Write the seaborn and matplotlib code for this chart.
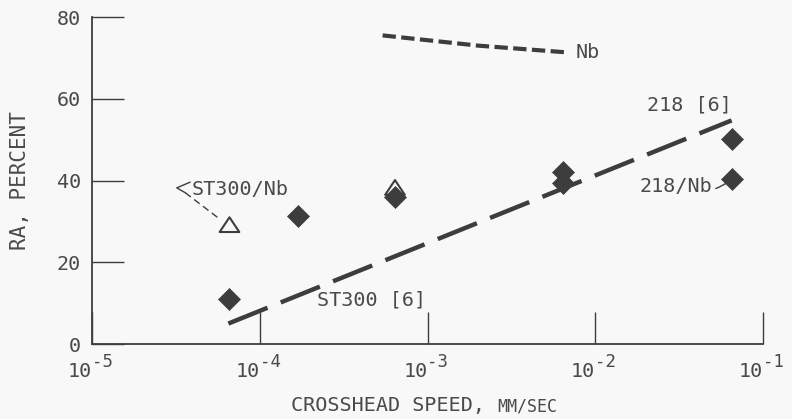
import numpy as np
import pandas as pd
import seaborn as sns
import matplotlib.pyplot as plt
from matplotlib.path import Path
import matplotlib.transforms as mtransforms

# filled diamonds (measured RA, percent)
speed_diamond = [6.6e-5, 1.7e-4, 6.4e-4, 6.4e-3, 6.4e-3, 6.5e-2, 6.5e-2]
ra_diamond = [11, 31.3, 36, 42, 39.3, 50.2, 40.3]

# open triangles (ST300/Nb)
speed_tri = [6.6e-5, 6.4e-4]
ra_tri = [29.2, 38.3]

# Nb curve (short dashes)
speed_nb = [5.4e-4, 2.0e-3, 7.0e-3]
ra_nb = [75.5, 73.0, 71.3]

# 218 / ST300 [6] reference line (long dashes)
speed_ref = [6.5e-5, 6.5e-2]
ra_ref = [5.0, 54.7]

x_ticks = [1e-5, 1e-4, 1e-3, 1e-2, 1e-1]
x_exponents = ['-5', '-4', '-3', '-2', '-1']
y_ticks = [0, 20, 40, 60, 80]

sns.set_theme(style='white')
plt.rcParams['font.family'] = ['DejaVu Sans Mono', 'DejaVu Sans']

ink = '#3d3d3d'
txt = '#4a4a4a'
bg = '#f8f8f8'

fig = plt.figure(figsize=(7.92, 4.19), dpi=100, facecolor=bg)
ax = fig.add_axes([92 / 792, 75 / 419, 671 / 792, 327 / 419], facecolor=bg)

df_nb = pd.DataFrame({'speed': speed_nb, 'ra': ra_nb})
df_ref = pd.DataFrame({'speed': speed_ref, 'ra': ra_ref})
df_d = pd.DataFrame({'speed': speed_diamond, 'ra': ra_diamond})
df_t = pd.DataFrame({'speed': speed_tri, 'ra': ra_tri})

sns.lineplot(data=df_nb, x='speed', y='ra', ax=ax, color=ink, lw=3, sort=False)
ax.lines[-1].set_dashes([3.2, 1.3])
sns.lineplot(data=df_ref, x='speed', y='ra', ax=ax, color=ink, lw=3.2, sort=False)
ax.lines[-1].set_dashes([9.5, 3.2])

tri = Path([(0, 0.75), (-1, -0.75), (1, -0.75), (0, 0.75)],
           [Path.MOVETO, Path.LINETO, Path.LINETO, Path.CLOSEPOLY])
sns.scatterplot(data=df_t, x='speed', y='ra', ax=ax, marker=tri, s=200,
                facecolor='none', edgecolor=ink, linewidth=1.5, zorder=3)
sns.scatterplot(data=df_d, x='speed', y='ra', ax=ax, marker='D', s=125,
                color=ink, edgecolor=ink, linewidth=0.5, zorder=4)

ax.set_xscale('log')
ax.set_xlim(1e-5, 1e-1)
ax.set_ylim(0, 80)
ax.set_xticks(x_ticks)
ax.set_xticklabels([])
ax.set_yticks(y_ticks)
ax.minorticks_off()
ax.tick_params(axis='both', direction='in', length=23, width=1.0,
               color=ink, labelcolor=txt, labelsize=14.5,
               bottom=True, left=True)
ax.tick_params(axis='y', pad=8)
for s in ['top', 'right']:
    ax.spines[s].set_visible(False)
for s in ['left', 'bottom']:
    ax.spines[s].set_color(ink)
    ax.spines[s].set_linewidth(1.3)

# x tick labels as 10 with raised exponent
trans = mtransforms.blended_transform_factory(ax.transData, ax.transAxes)
for t, e in zip(x_ticks, x_exponents):
    ax.text(t, (344 - 377) / 327, '10', transform=trans, ha='right',
            va='baseline', fontsize=14.5, color=txt)
    ax.text(t, (344 - 367) / 327, e, transform=trans, ha='left',
            va='baseline', fontsize=12.5, color=txt)

ax.set_xlabel('')
ax.set_ylabel('RA, PERCENT', color=txt, fontsize=15)
ax.yaxis.set_label_coords(-0.092, 0.5)
ax.text((485 - 92) / 671, (344 - 411) / 327, 'CROSSHEAD SPEED,', transform=ax.transAxes,
        ha='right', va='baseline', fontsize=14.5, color=txt)
ax.text((497 - 92) / 671, (344 - 411) / 327, 'MM/SEC', transform=ax.transAxes,
        ha='left', va='baseline', fontsize=12, color=txt)

# curve labels
ax.text(7.6e-3, 71.3, 'Nb', ha='left', va='center', fontsize=14.5, color=txt)
ax.text(6.5e-2, 56.1, '218 [6]', ha='right', va='bottom', fontsize=14.5, color=txt)
ax.text(2.2e-4, 10.8, 'ST300 [6]', ha='left', va='center', fontsize=14.5, color=txt)

ax.annotate('218/Nb', xy=(speed_diamond[6], ra_diamond[6]), xytext=(5.0e-2, 38.5),
            ha='right', va='center', fontsize=14.5, color=txt,
            arrowprops=dict(arrowstyle='-', color=ink, lw=1.0,
                            shrinkA=0, shrinkB=4,
                            connectionstyle='arc3,rad=0.3'))

ax.text(3.9e-5, 37.9, 'ST300/Nb', ha='left', va='center', fontsize=14.5, color=txt)
# leader from label to the triangle
ax.plot([3.85e-5, 3.2e-5, 3.6e-5], [39.6, 38.2, 37.0], color=ink, lw=1.0)
ax.plot([3.6e-5, 5.8e-5], [37.0, 30.5], color=ink, lw=1.0, ls=(0, (5, 3)))

fig.savefig('out.png', dpi=100, facecolor=bg)
